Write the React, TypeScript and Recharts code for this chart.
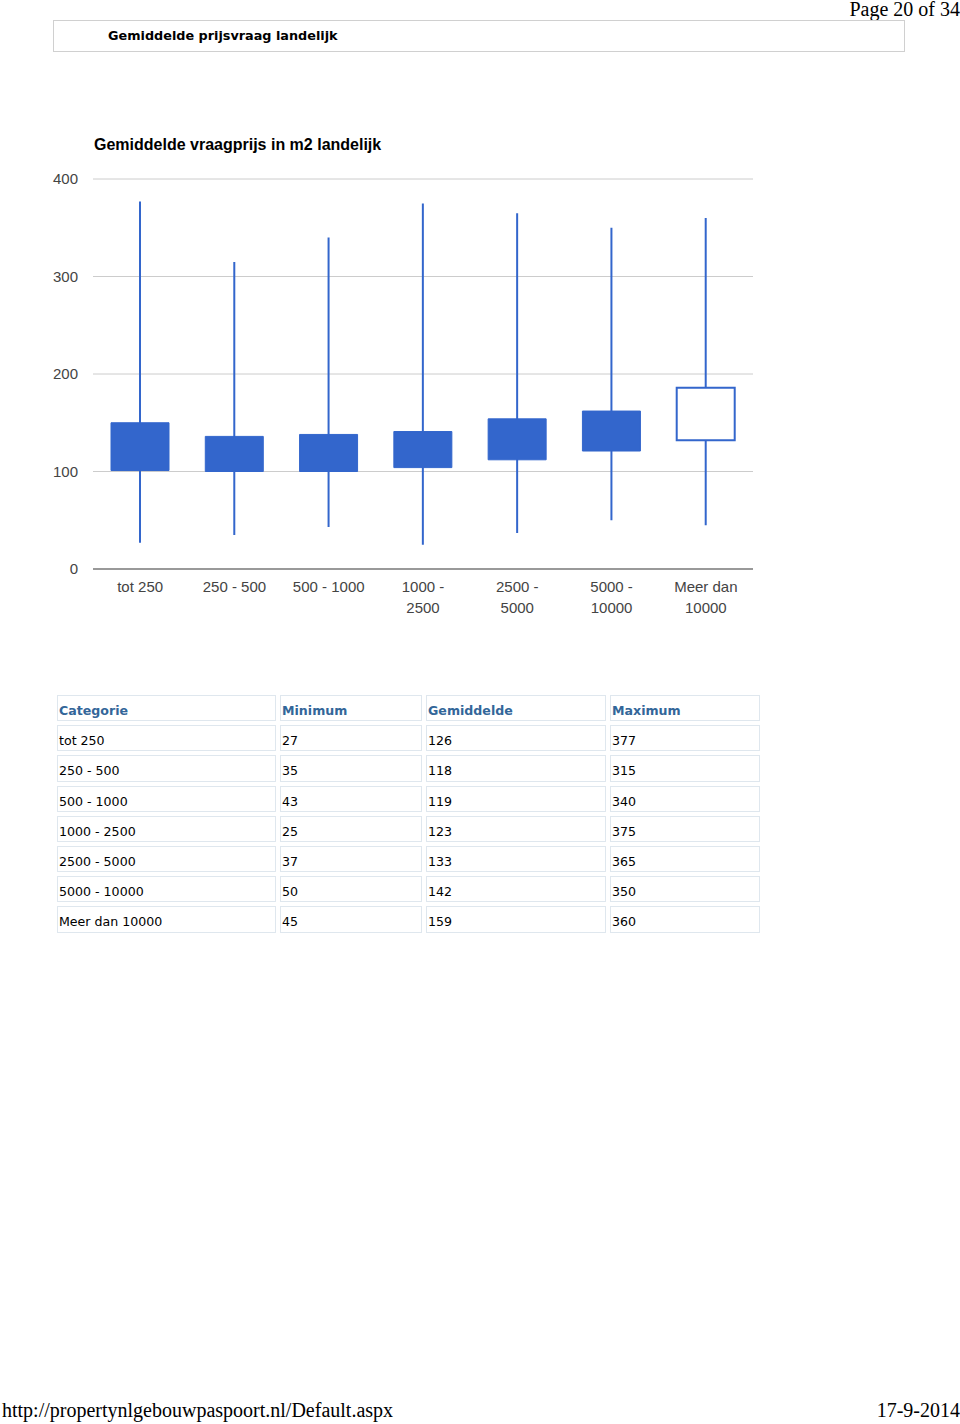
import { ComposedChart, Bar, Cell, XAxis, YAxis, CartesianGrid } from 'recharts'

const categories = ['tot 250', '250 - 500', '500 - 1000', '1000 - 2500', '2500 - 5000', '5000 - 10000', 'Meer dan 10000']
const tickLines = [['tot 250'], ['250 - 500'], ['500 - 1000'], ['1000 -', '2500'], ['2500 -', '5000'], ['5000 -', '10000'], ['Meer dan', '10000']]
const minimum = [27, 35, 43, 25, 37, 50, 45]
const gemiddelde = [126, 118, 119, 123, 133, 142, 159]
const maximum = [377, 315, 340, 375, 365, 350, 360]
// box edges (open / close)
const boxOpen = [150, 136, 138, 141, 154, 162, 132]
const boxClose = [101, 100, 100, 104, 112, 121, 186]
const yTicks = [0, 100, 200, 300, 400]

const BLUE = '#3366cc'

const data = categories.map((name, i) => ({
  name,
  whisker: [minimum[i], maximum[i]],
  box: [Math.min(boxOpen[i], boxClose[i]), Math.max(boxOpen[i], boxClose[i])],
  rising: boxClose[i] > boxOpen[i],
}))

function XTick({ x, y, payload }: any) {
  const idx = categories.indexOf(payload.value)
  const lines = tickLines[idx] ?? [payload.value]
  return (
    <text x={x} y={y} textAnchor="middle" fill="#444" fontSize={15} fontFamily="Arial, 'Liberation Sans'">
      {lines.map((l, i) => (
        <tspan key={i} x={x} dy={i === 0 ? 23 : 21}>{l}</tspan>
      ))}
    </text>
  )
}

const cellStyle: React.CSSProperties = {
  boxSizing: 'border-box',
  border: '1px solid #dfe7ee',
  padding: '7px 1px 1px',
  lineHeight: '16px',
  height: 26.2,
  textAlign: 'left',
  verticalAlign: 'top',
}
const colWidths = [219, 142, 180, 150]
const headers = ['Categorie', 'Minimum', 'Gemiddelde', 'Maximum']

export default function App() {
  const serif = "'Liberation Serif', 'Times New Roman', serif"
  return (
    <div style={{ position: 'absolute', left: 0, top: 0, width: 960, height: 1424, background: '#fff', fontFamily: "'DejaVu Sans', Verdana, sans-serif" }}>
      <div style={{ position: 'absolute', right: 0, top: -1, fontFamily: serif, fontSize: 20, lineHeight: '20px', color: '#000' }}>Page 20 of 34</div>

      <div style={{
        position: 'absolute', left: 53, top: 20, width: 852, height: 32, boxSizing: 'border-box',
        border: '1px solid #d0d0d0', paddingLeft: 54, fontSize: 12.8, fontWeight: 'bold', lineHeight: '30px', color: '#000',
      }}>
        Gemiddelde prijsvraag landelijk
      </div>

      <div style={{ position: 'absolute', left: 94, top: 136, fontFamily: "Arial, 'Liberation Sans'", fontWeight: 'bold', fontSize: 16, color: '#000' }}>
        Gemiddelde vraagprijs in m2 landelijk
      </div>

      <div style={{ position: 'absolute', left: 0, top: 130 }}>
        <ComposedChart width={780} height={520} data={data} margin={{ top: 49, right: 27, left: 0, bottom: 31 }}>
          <CartesianGrid vertical={false} stroke="#cccccc" />
          <XAxis
            xAxisId="w" dataKey="name" type="category" height={50}
            tickLine={false} tickSize={0} tickMargin={0}
            axisLine={{ stroke: '#999999', strokeWidth: 2 }}
            tick={<XTick />} interval={0}
          />
          <XAxis xAxisId="b" dataKey="name" type="category" height={0} hide />
          <YAxis
            domain={[0, 400]} ticks={yTicks} width={93}
            axisLine={false} tickLine={false} tickSize={0} tickMargin={15}
            tick={{ fill: '#444', fontSize: 15, fontFamily: "Arial, 'Liberation Sans'" }}
          />
          <Bar xAxisId="w" dataKey="whisker" barSize={2} fill={BLUE} isAnimationActive={false} />
          <Bar xAxisId="b" dataKey="box" barSize={58} isAnimationActive={false}>
            {data.map((d, i) => (
              <Cell key={i} fill={d.rising ? '#ffffff' : BLUE} stroke={BLUE} strokeWidth={d.rising ? 2 : 1} />
            ))}
          </Bar>
        </ComposedChart>
      </div>

      <table style={{ position: 'absolute', left: 53, top: 691, borderCollapse: 'separate', borderSpacing: 4, fontSize: 12.6, color: '#000' }}>
        <thead>
          <tr>
            {headers.map((h, i) => (
              <th key={h} style={{ ...cellStyle, width: colWidths[i], color: '#336699', fontWeight: 'bold' }}>{h}</th>
            ))}
          </tr>
        </thead>
        <tbody>
          {categories.map((c, i) => (
            <tr key={c}>
              <td style={{ ...cellStyle, width: colWidths[0] }}>{c}</td>
              <td style={{ ...cellStyle, width: colWidths[1] }}>{minimum[i]}</td>
              <td style={{ ...cellStyle, width: colWidths[2] }}>{gemiddelde[i]}</td>
              <td style={{ ...cellStyle, width: colWidths[3] }}>{maximum[i]}</td>
            </tr>
          ))}
        </tbody>
      </table>

      <div style={{ position: 'absolute', left: 2, top: 1399, fontFamily: serif, fontSize: 20, color: '#000' }}>
        http://propertynlgebouwpaspoort.nl/Default.aspx
      </div>
      <div style={{ position: 'absolute', right: 0, top: 1399, fontFamily: serif, fontSize: 20, color: '#000' }}>
        17-9-2014
      </div>
    </div>
  )
}
